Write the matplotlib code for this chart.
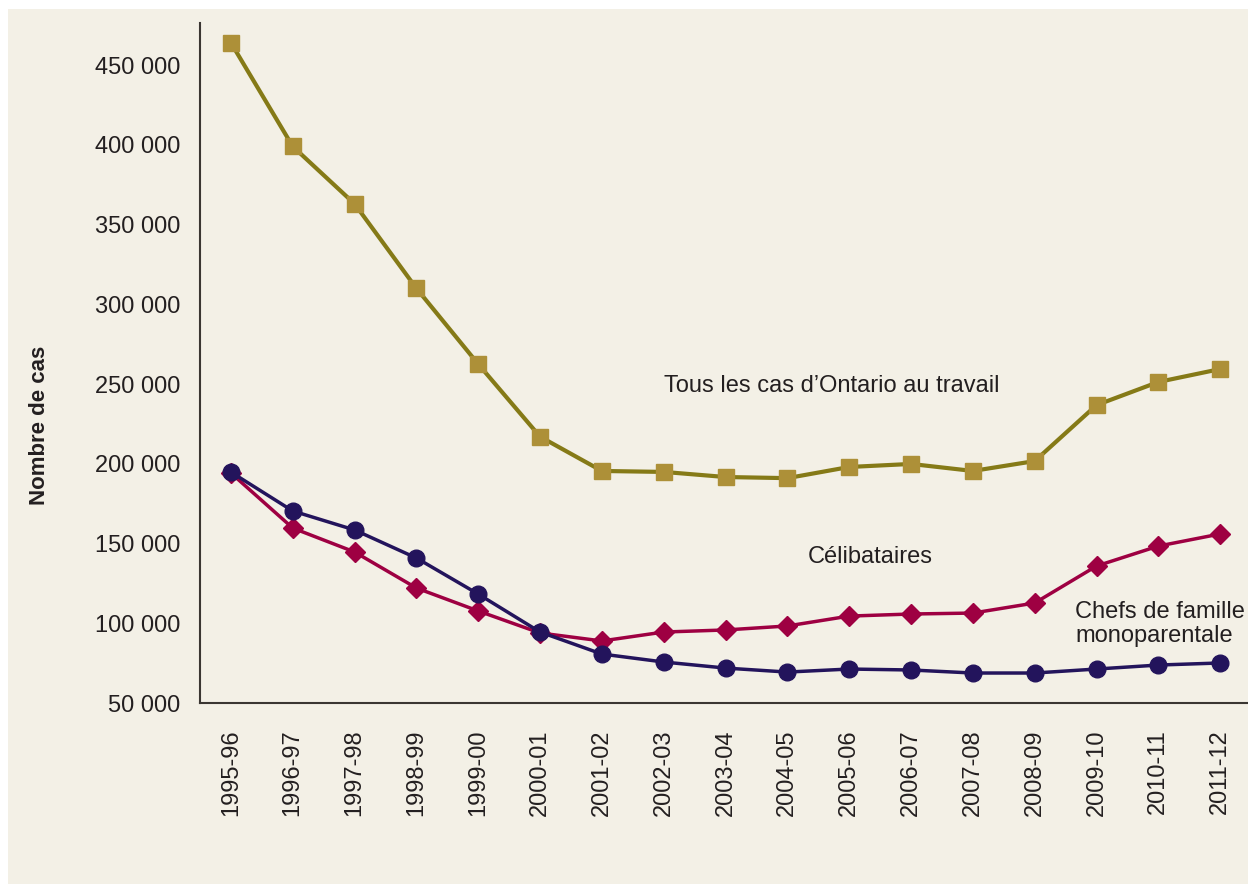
import matplotlib
matplotlib.use("Agg")
import matplotlib.pyplot as plt
from matplotlib.patches import Rectangle

plt.rcParams['font.family'] = ['Liberation Sans', 'DejaVu Sans']

# Exercices financiers
annees = ["1995-96", "1996-97", "1997-98", "1998-99", "1999-00", "2000-01",
          "2001-02", "2002-03", "2003-04", "2004-05", "2005-06", "2006-07",
          "2007-08", "2008-09", "2009-10", "2010-11", "2011-12"]

# Nombre de cas par catégorie
tous_les_cas = [464000, 399000, 363000, 310000, 262500, 217000, 195500, 194900,
                191700, 191000, 198000, 199900, 195500, 201700, 236800, 251300, 259400]
celibataires = [194200, 159700, 144700, 122100, 107700, 93900, 88900, 94500,
                95800, 98300, 104500, 105800, 106400, 112700, 135900, 148400, 156000]
chefs_famille = [194800, 170400, 158500, 140900, 118300, 94500, 80700, 75700,
                 71900, 69400, 71300, 70700, 68800, 68800, 71300, 73800, 75100]

fond = "#f3f0e6"
texte = "#231f20"

fig = plt.figure(figsize=(12.48, 8.84), dpi=100)
fig.patch.set_facecolor("white")
fig.patches.append(Rectangle((8 / 1248, 0), 1 - 8 / 1248, 1 - 9 / 884,
                             transform=fig.transFigure, facecolor=fond,
                             edgecolor="none", zorder=-10))

ax = fig.add_axes([200 / 1248, 1 - 703 / 884, 1 - 200 / 1248, (703 - 23) / 884])
ax.set_facecolor(fond)

x = list(range(len(annees)))
ax.plot(x, tous_les_cas, color="#857a17", lw=3, marker="s", markersize=11,
        markerfacecolor="#ad9038", markeredgecolor="#ad9038", zorder=3)
ax.plot(x, celibataires, color="#9e0042", lw=2.5, marker="D", markersize=10,
        markerfacecolor="#9e0042", markeredgecolor="#9e0042", zorder=3)
ax.plot(x, chefs_famille, color="#23145c", lw=2.5, marker="o", markersize=12,
        markerfacecolor="#23145c", markeredgecolor="#23145c", zorder=4)

ax.set_xlim(-0.5, 16.45)
ax.set_ylim(50000, 476400)

ax.set_yticks(range(50000, 450001, 50000))
ax.set_yticklabels([f"{v:,}".replace(",", " ") for v in range(50000, 450001, 50000)])
ax.set_xticks(x)
ax.set_xticklabels(annees, rotation=90)
ax.tick_params(axis="y", length=0, pad=14, labelsize=17, labelcolor=texte)
ax.tick_params(axis="x", length=0, pad=19, labelsize=17, labelcolor=texte)

for s in ["top", "right"]:
    ax.spines[s].set_visible(False)
for s in ["left", "bottom"]:
    ax.spines[s].set_color("#3a3632")
    ax.spines[s].set_linewidth(1.5)

fig.text(40 / 1248, 1 - 425 / 884, "Nombre de cas", rotation=90, ha="center",
         va="center", fontsize=16, fontweight="bold", color=texte)

# étiquettes des séries
ax.text(9.72, 249000, "Tous les cas d\u2019Ontario au travail", ha="center",
        va="center", fontsize=17, color=texte)
ax.text(10.34, 141500, "Célibataires", ha="center", va="center",
        fontsize=17, color=texte)
ax.text(13.66, 99500, "Chefs de famille\nmonoparentale", ha="left",
        va="center", fontsize=17, color=texte, linespacing=1.1)

fig.savefig("out.png", dpi=100, facecolor=fig.get_facecolor())
